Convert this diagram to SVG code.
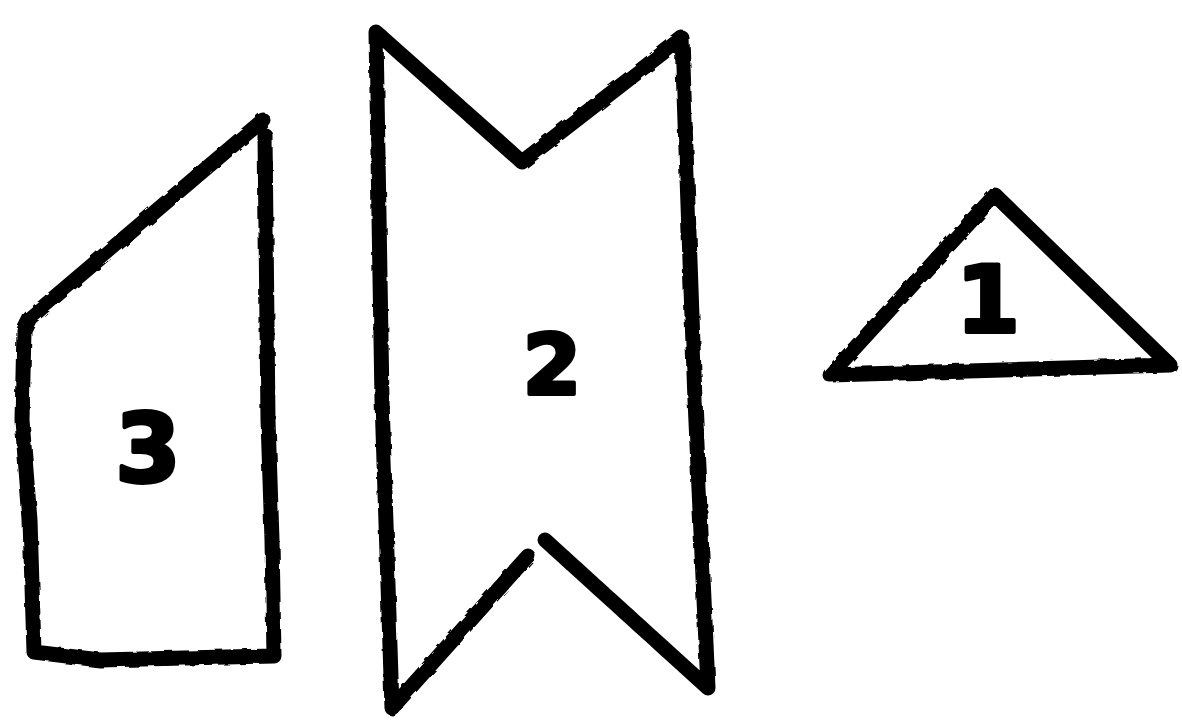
<svg xmlns="http://www.w3.org/2000/svg" width="1182" height="722" viewBox="0 0 1182 722">
<style>
.shape{fill:none;stroke:#000;stroke-width:15;stroke-linejoin:round;stroke-linecap:round;filter:url(#rough)}
.lbl{font-family:"DejaVu Sans",sans-serif;font-weight:bold;fill:#000;stroke:#000;stroke-width:4;stroke-linejoin:round;text-anchor:middle}
</style>
<defs>
<filter id="rough" x="-5%" y="-5%" width="110%" height="110%">
<feTurbulence type="fractalNoise" baseFrequency="0.08" numOctaves="2" seed="3"/>
<feDisplacementMap in="SourceGraphic" scale="4"/>
</filter>
</defs>
<rect width="1182" height="722" fill="#fff"/>
<g id="node3">
<path class="shape" d="M263,120 L30,318 L24,330 L22,420 L30,520 L34,652 L100,660 L274,656 L272,540 L268,420 L265,135"/>
<text class="lbl" x="148" y="482" font-size="94">3</text>
</g>
<g id="node2">
<path class="shape" d="M545,540 L708,688 L695,400 L682,38 L522,162 L376,32 L382,400 L392,708 L528,556"/>
<text class="lbl" x="552" y="394" font-size="84">2</text>
</g>
<g id="node1">
<path class="shape" d="M995,195 L830,375 L1170,365 Z"/>
<text class="lbl" x="988" y="332" font-size="92">1</text>
</g>
<g id="connectors"></g>
</svg>
